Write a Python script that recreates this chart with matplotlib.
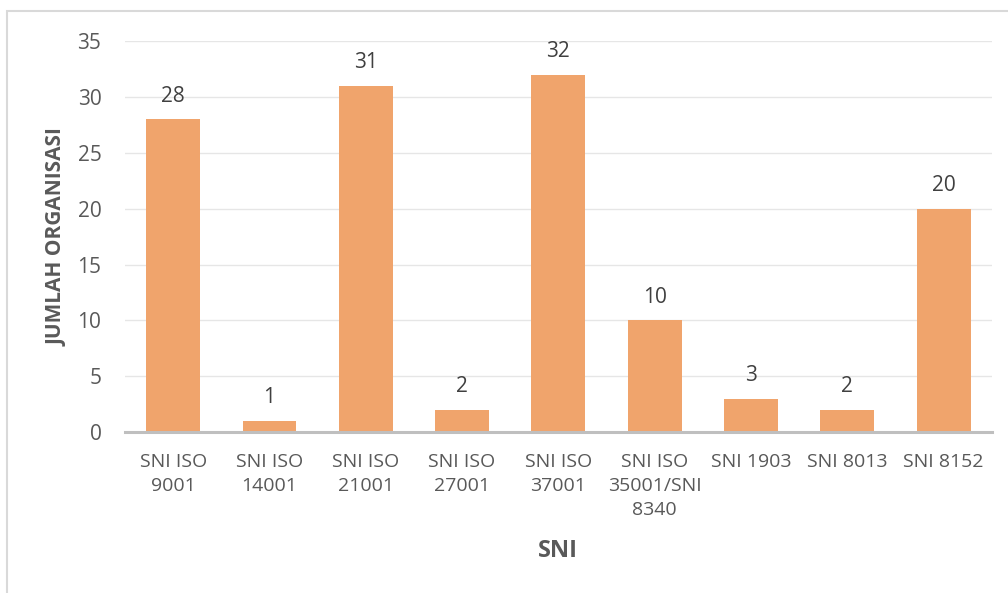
import matplotlib.pyplot as plt
from matplotlib.patches import Rectangle

categories = ["SNI ISO\n9001", "SNI ISO\n14001", "SNI ISO\n21001", "SNI ISO\n27001",
              "SNI ISO\n37001", "SNI ISO\n35001/SNI\n8340", "SNI 1903", "SNI 8013", "SNI 8152"]
counts = [28, 1, 31, 2, 32, 10, 3, 2, 20]
y_ticks = [0, 5, 10, 15, 20, 25, 30, 35]

plt.rcParams["font.family"] = ["Open Sans", "DejaVu Sans"]

fig = plt.figure(figsize=(10.08, 5.93), dpi=100)
ax = fig.add_axes([0.124, 0.2715, 0.86, 0.659])

# chart area border (runs off the right and bottom edges)
fig.patches.append(Rectangle((7 / 1008, -0.05), 1.1, 1.05 - 11 / 593, transform=fig.transFigure,
                             fill=False, edgecolor="#d9d9d9", linewidth=1.5, zorder=0))

x = range(len(categories))
bars = ax.bar(x, counts, width=0.56, color="#f0a46c", zorder=2)

for xi, v in zip(x, counts):
    ax.annotate(str(v), (xi, v), xytext=(0, 9), textcoords="offset points",
                ha="center", va="bottom", fontsize=15, color="#404040")

ax.set_xlim(-0.5, len(categories) - 0.5)
ax.set_ylim(0, 35)
ax.set_yticks(y_ticks)
ax.set_xticks(list(x))
ax.set_xticklabels(categories, linespacing=1.45)
ax.grid(axis="y", color="#e6e6e6", linewidth=1, zorder=0)
ax.set_axisbelow(True)

for s in ["top", "right", "left"]:
    ax.spines[s].set_visible(False)
ax.spines["bottom"].set_color("#bfbfbf")
ax.spines["bottom"].set_linewidth(2.2)
ax.spines["bottom"].set_zorder(3)

ax.tick_params(axis="both", length=0, labelcolor="#595959")
ax.tick_params(axis="y", pad=17, labelsize=15)
ax.tick_params(axis="x", pad=15, labelsize=14)

ax.set_xlabel("SNI", fontsize=17, fontweight="bold", color="#595959", labelpad=14)
ax.set_ylabel("JUMLAH ORGANISASI", fontsize=15, fontweight="bold", color="#595959")
ax.yaxis.set_label_coords(-0.066, 0.5)

fig.savefig("out.png", dpi=100)
